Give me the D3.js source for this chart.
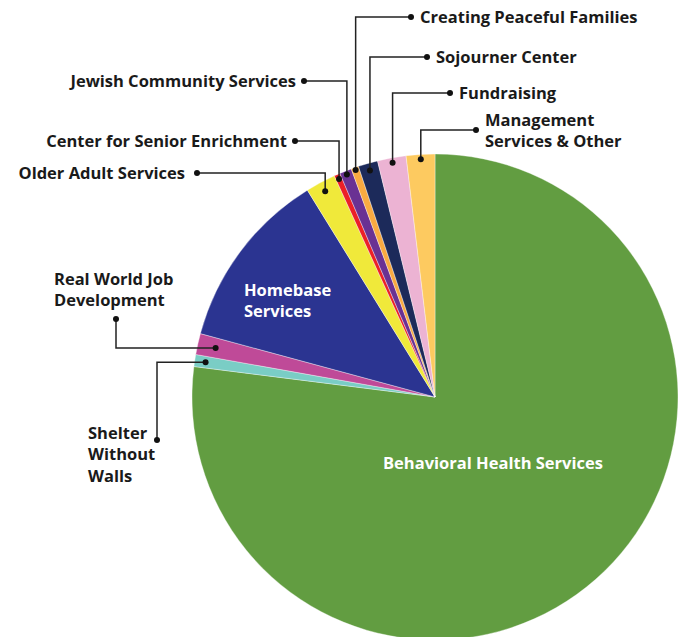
<!DOCTYPE html>
<html>
<head>
<meta charset="utf-8">
<script src="https://cdn.jsdelivr.net/npm/d3@7"></script>
<style>
  body { margin: 0; background: #fff; }
  text { font-family: "Open Sans", "Noto Sans", sans-serif; font-weight: bold; }
</style>
</head>
<body>
<script>
var w = 687;
var h = 637;

// slices, clockwise from 12 o'clock
var programs = [
  "Behavioral Health Services",
  "Shelter Without Walls",
  "Real World Job Development",
  "Homebase Services",
  "Older Adult Services",
  "Center for Senior Enrichment",
  "Jewish Community Services",
  "Creating Peaceful Families",
  "Sojourner Center",
  "Fundraising",
  "Management Services & Other"
];
var shares = [77.0, 0.8, 1.4, 12.0, 2.0, 0.4, 0.8, 0.5, 1.3, 1.9, 1.9];
var colors = ["#629d41", "#7acdc5", "#bf4a98", "#2b3491", "#f0e93a", "#ec2027",
              "#6a3193", "#f9aa41", "#1c2a5a", "#ecb3d3", "#fdca60"];

// label text lines for each slice
var labelLines = [
  ["Behavioral Health Services"],
  ["Shelter", "Without", "Walls"],
  ["Real World Job", "Development"],
  ["Homebase", "Services"],
  ["Older Adult Services"],
  ["Center for Senior Enrichment"],
  ["Jewish Community Services"],
  ["Creating Peaceful Families"],
  ["Sojourner Center"],
  ["Fundraising"],
  ["Management", "Services & Other"]
];

var cx = 435, cy = 397, r = 243;
var fontSize = "16.5px";

var svg = d3.select("body")
            .append("svg")
              .attr("width", w)
              .attr("height", h);

var pie = d3.pie().sort(null).value(function(d) { return d; });
var arcs = pie(shares);

var arc = d3.arc().innerRadius(0).outerRadius(r);

var g = svg.append("g").attr("transform", "translate(" + cx + "," + cy + ")");

g.selectAll("path")
  .data(arcs)
  .enter()
  .append("path")
    .attr("d", arc)
    .attr("fill", function(d, i) { return colors[i]; })
    .attr("stroke", "#ffffff")
    .attr("stroke-opacity", 0.6)
    .attr("stroke-width", 0.6);

// point on a slice at its mid angle
function slicePoint(d, rr) {
  var a = (d.startAngle + d.endAngle) / 2;
  return [cx + Math.sin(a) * rr, cy - Math.cos(a) * rr];
}

// outside labels: label dot position, text side, and leader shape
// "v" = up from slice then across, "h" = across from slice then up/down
var callouts = [
  {i: 1, dot: [157, 440], side: "right", path: "h", tx: 88, ty: 433},
  {i: 2, dot: [116, 319], side: "above", path: "h", tx: 54, ty: 279},
  {i: 4, dot: [197, 173], side: "left", path: "v", gap: 12},
  {i: 5, dot: [295, 141], side: "left", path: "v", gap: 8},
  {i: 6, dot: [304, 81], side: "left", path: "v", gap: 8},
  {i: 7, dot: [411, 17], side: "right", path: "v"},
  {i: 8, dot: [427, 57], side: "right", path: "v"},
  {i: 9, dot: [450, 93], side: "right", path: "v"},
  {i: 10, dot: [476, 130], side: "right", path: "v"}
];
var radFrac = {1: 0.955, 2: 0.925, 4: 0.96, 5: 0.98, 6: 0.985, 7: 0.99, 8: 0.97, 9: 0.98, 10: 0.98};

var lead = svg.append("g");
callouts.forEach(function(c) {
  var p = slicePoint(arcs[c.i], r * radFrac[c.i]);
  var pts;
  if (c.path === "v") {
    pts = [p, [p[0], c.dot[1]], c.dot];
  } else {
    pts = [p, [c.dot[0], p[1]], c.dot];
  }
  lead.append("path")
    .attr("d", d3.line()(pts))
    .attr("fill", "none")
    .attr("stroke", "#222")
    .attr("stroke-width", 1.5);
  [p, c.dot].forEach(function(q) {
    lead.append("circle")
      .attr("cx", q[0]).attr("cy", q[1]).attr("r", 3)
      .attr("fill", "#111");
  });

  var lines = labelLines[c.i];
  var t = lead.append("text")
    .attr("font-size", fontSize)
    .attr("fill", "#1a1a1a");
  var x, y0, anchor = "start";
  if (c.side === "left") {
    x = c.dot[0] - c.gap; y0 = c.dot[1]; anchor = "end";
  } else if (c.tx !== undefined) {
    x = c.tx; y0 = c.ty;
  } else {
    x = c.dot[0] + 9;
    y0 = c.dot[1] - (lines.length - 1) * 10;
  }
  lines.forEach(function(s, k) {
    t.append("tspan")
      .attr("x", x)
      .attr("y", y0 + k * 21.5)
      .attr("dy", "0.35em")
      .text(s);
  });
  t.attr("text-anchor", anchor);
});

// inside labels
var inside = [
  {i: 0, x: 493, y: 463, anchor: "middle"},
  {i: 3, x: 244, y: 290, anchor: "start"}
];
inside.forEach(function(c) {
  var t = svg.append("text")
    .attr("font-size", fontSize)
    .attr("fill", "#ffffff")
    .attr("text-anchor", c.anchor);
  labelLines[c.i].forEach(function(s, k) {
    t.append("tspan")
      .attr("x", c.x)
      .attr("y", c.y + k * 21.5)
      .attr("dy", "0.35em")
      .text(s);
  });
});
</script>
</body>
</html>
